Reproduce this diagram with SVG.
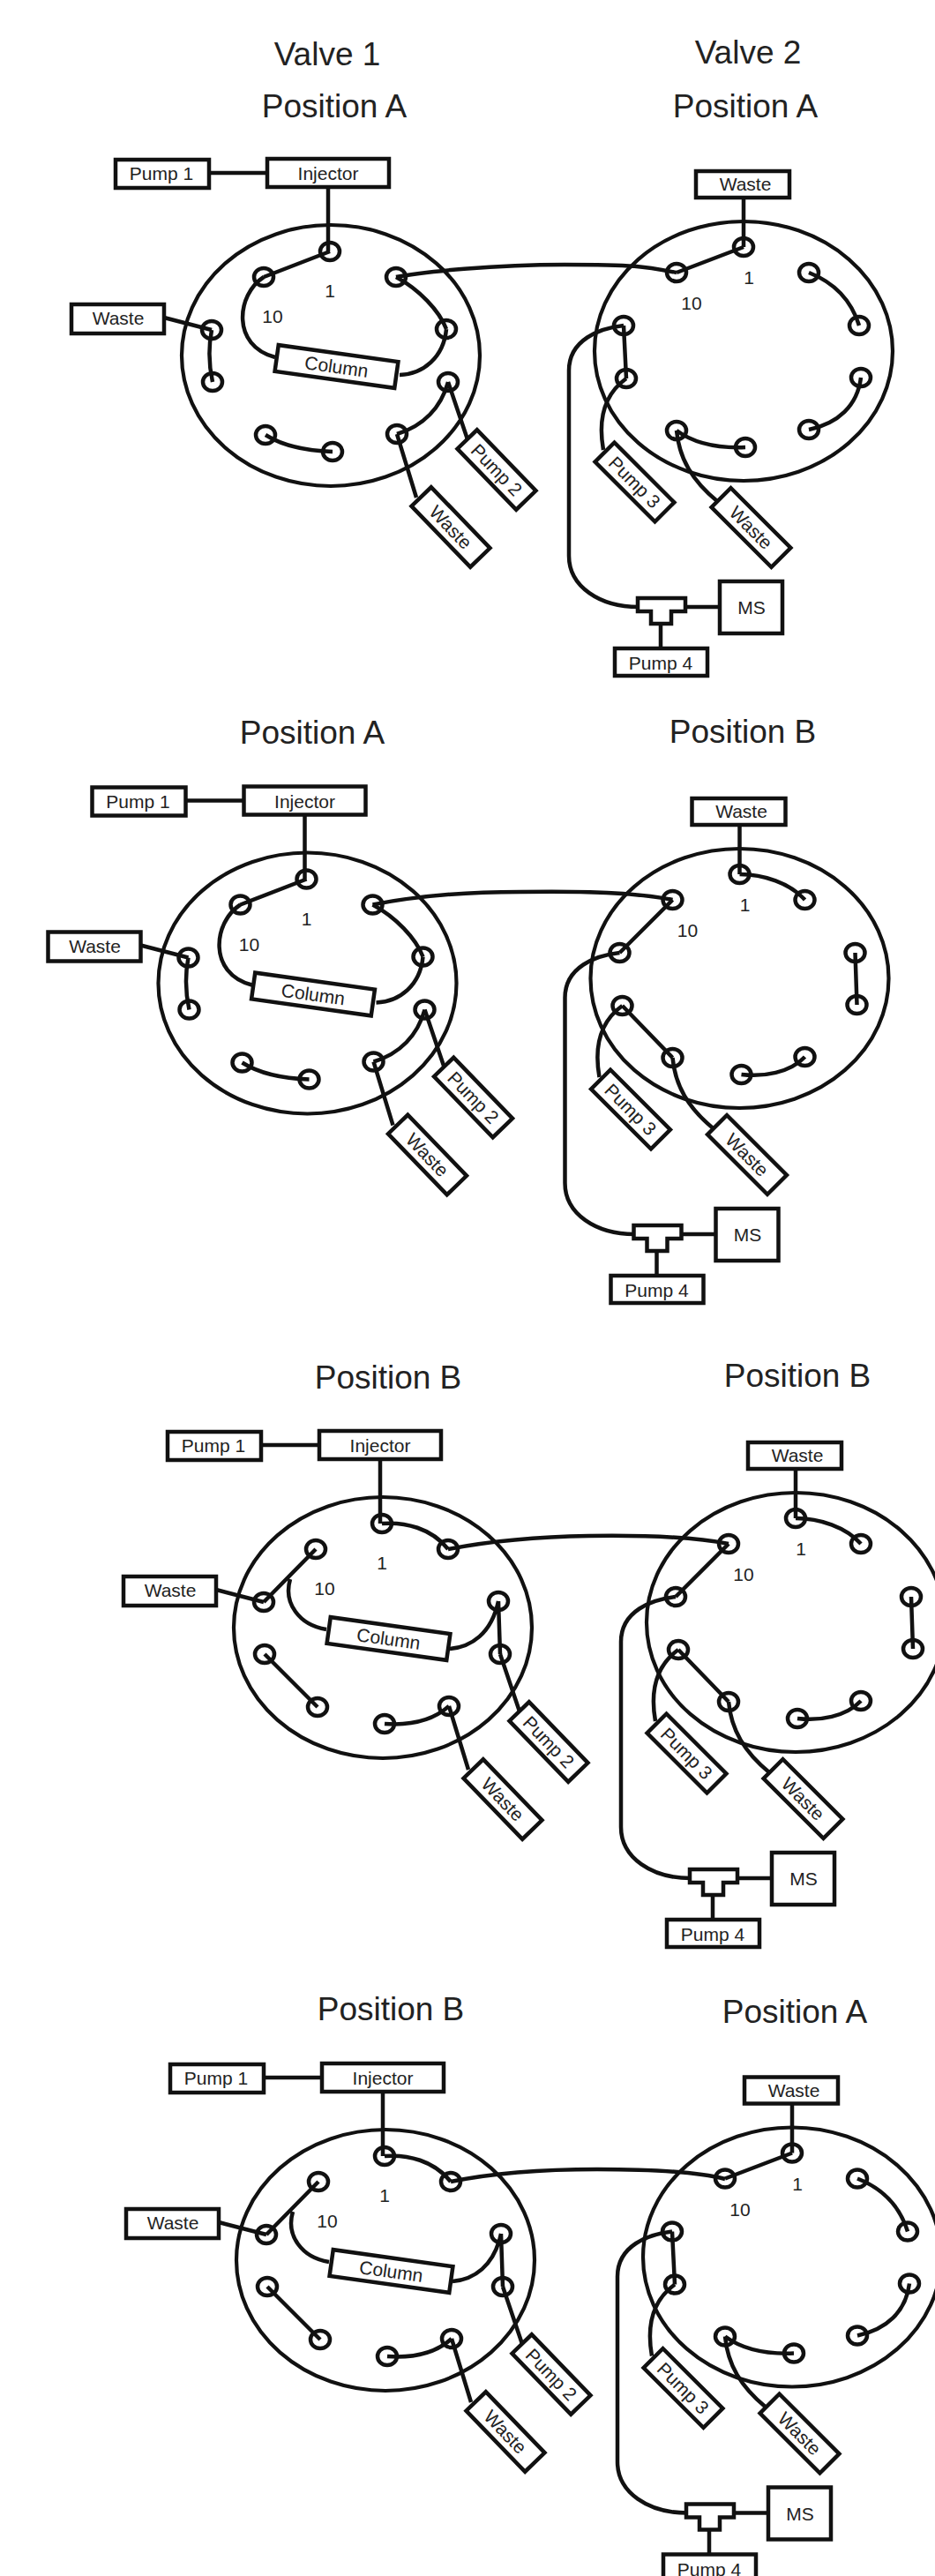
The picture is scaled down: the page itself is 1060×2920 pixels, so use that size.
<svg xmlns="http://www.w3.org/2000/svg" width="1060" height="2920" viewBox="0 0 1060 2920">
<style>
text{font-family:"Liberation Sans",Arial,sans-serif;fill:#222;text-anchor:middle;font-size:21px}
.t{font-size:37px}
.b{fill:#fff;stroke:#111;stroke-width:4.5}
.c path,.c line{fill:none;stroke:#111;stroke-width:4.5}
.x{fill:none;stroke:#111;stroke-width:4.2}
.p{fill:none;stroke:#111;stroke-width:4.5}
</style>
<defs>
<g id="v1p" class="p"><ellipse cx="374" cy="285" rx="11" ry="10"/><ellipse cx="449" cy="314" rx="11" ry="10"/><ellipse cx="506" cy="373" rx="11" ry="10"/><ellipse cx="508" cy="433" rx="11" ry="10"/><ellipse cx="450" cy="492" rx="11" ry="10"/><ellipse cx="377" cy="512" rx="11" ry="10"/><ellipse cx="301" cy="493" rx="11" ry="10"/><ellipse cx="241" cy="433" rx="11" ry="10"/><ellipse cx="240" cy="374" rx="11" ry="10"/><ellipse cx="299" cy="314" rx="11" ry="10"/></g>
<g id="v2p" class="p"><ellipse cx="843" cy="280" rx="11" ry="10"/><ellipse cx="917" cy="309" rx="11" ry="10"/><ellipse cx="974" cy="369" rx="11" ry="10"/><ellipse cx="976" cy="428" rx="11" ry="10"/><ellipse cx="917" cy="487" rx="11" ry="10"/><ellipse cx="845" cy="507" rx="11" ry="10"/><ellipse cx="767" cy="488" rx="11" ry="10"/><ellipse cx="710" cy="429" rx="11" ry="10"/><ellipse cx="707" cy="369" rx="11" ry="10"/><ellipse cx="767" cy="309" rx="11" ry="10"/></g>
</defs>
<rect width="1060" height="2920" fill="#fff"/>

<g id="titles">
<text class="t" x="371" y="74">Valve 1</text>
<text class="t" x="848" y="72">Valve 2</text>
<text class="t" x="379" y="133">Position A</text>
<text class="t" x="845" y="133">Position A</text>
<text class="t" x="354" y="843">Position A</text>
<text class="t" x="842" y="842">Position B</text>
<text class="t" x="440" y="1574">Position B</text>
<text class="t" x="904" y="1572">Position B</text>
<text class="t" x="443" y="2290">Position B</text>
<text class="t" x="901" y="2293">Position A</text>
</g>

<g id="connectors" class="c">
<path d="M449 314C480 308 560 300 640 300S730 302 767 309"/>
<path d="M422.500 1025.500C460 1018 520 1011 590 1011C650 1010 720 1011 762.500 1020"/>
<path d="M508 1756C550 1748 600 1742 667 1741C730 1740 790 1743 826 1750"/>
<path d="M511 2473C550 2465 600 2459 677 2459C730 2459 790 2462 822 2470"/>

<g id="conn-p1-v1">
<path d="M237 196H303M372 213V285M186 360L240 374M508 433L530 498M450 492L472 564"/>
<path d="M374 285L299 314M299 314C268 334 262 392 312 405M453 425C480 424 503 405 506 373M449 314C475 328 498 352 506 373M508 433C500 462 480 483 450 492M301 493C320 505 345 511 377 512M240 374C236 395 237 415 241 433"/>
</g>
<g id="conn-p1-v2">
<path d="M843 224V280M707 369C680 372 645 385 645 420V630C645 665 680 688 724 688M710 429C692 442 676 465 684 510M767 488C770 520 785 545 813 568M777 688H816M749 707V735"/>
<path d="M843 280L767 309M917 309C945 320 965 340 974 369M976 428C972 460 950 480 917 487M767 488C790 505 820 508 845 507M707 369L710 429"/>
</g>

<g id="conn-p2-v1" transform="translate(-26.500 711.500)">
<path d="M237 196H303M372 213V285M186 360L240 374M508 433L530 498M450 492L472 564"/>
<path d="M374 285L299 314M299 314C268 334 262 392 312 405M453 425C480 424 503 405 506 373M449 314C475 328 498 352 506 373M508 433C500 462 480 483 450 492M301 493C320 505 345 511 377 512M240 374C236 395 237 415 241 433"/>
</g>
<g id="conn-p2-v2" transform="translate(-4.500 711)">
<path d="M843 224V280M707 369C680 372 645 385 645 420V630C645 665 680 688 724 688M710 429C692 442 676 465 684 510M767 488C770 520 785 545 813 568M777 688H816M749 707V735"/>
<path d="M843 280C870 280 900 290 917 309M974 369L976 428M845 507C870 510 900 505 917 487M767 488L710 429M707 369L767 309"/>
</g>

<g id="conn-p3-v1" transform="translate(59 1442)">
<path d="M237 196H303M372 213V285M186 360L240 374M508 433L530 498M450 492L472 564"/>
<path d="M374 285C400 283 430 290 449 314M270 348C262 375 280 400 311 405M451 427C475 425 498 410 506 373M506 373L508 433M377 512C405 514 430 510 450 492M301 493L241 433M240 374L299 314"/>
</g>
<g id="conn-p3-v2" transform="translate(59 1441)">
<path d="M843 224V280M707 369C680 372 645 385 645 420V630C645 665 680 688 724 688M710 429C692 442 676 465 684 510M767 488C770 520 785 545 813 568M777 688H816M749 707V735"/>
<path d="M843 280C870 280 900 290 917 309M974 369L976 428M845 507C870 510 900 505 917 487M767 488L710 429M707 369L767 309"/>
</g>

<g id="conn-p4-v1" transform="translate(62 2159)">
<path d="M237 196H303M372 213V285M186 360L240 374M508 433L530 498M450 492L472 564"/>
<path d="M374 285C400 283 430 290 449 314M270 348C262 375 280 400 311 405M451 427C475 425 498 410 506 373M506 373L508 433M377 512C405 514 430 510 450 492M301 493L241 433M240 374L299 314"/>
</g>
<g id="conn-p4-v2" transform="translate(55 2160.500)">
<path d="M843 224V280M707 369C680 372 645 385 645 420V630C645 665 680 688 724 688M710 429C692 442 676 465 684 510M767 488C770 520 785 545 813 568M777 688H816M749 707V735"/>
<path d="M843 280L767 309M917 309C945 320 965 340 974 369M976 428C972 460 950 480 917 487M767 488C790 505 820 508 845 507M707 369L710 429"/>
</g>
</g>

<g id="panel1-valve1">
<g id="p1-v1-rotor"><ellipse class="x" cx="375" cy="403" rx="169" ry="148"/><use href="#v1p"/><text x="374" y="337">1</text><text x="309" y="366">10</text></g>
<g id="p1-v1-pump1"><rect class="b" x="131" y="181" width="106" height="32"/><text x="183" y="204">Pump 1</text></g>
<g id="p1-v1-injector"><rect class="b" x="303" y="180" width="138" height="32"/><text x="372" y="204">Injector</text></g>
<g id="p1-v1-waste"><rect class="b" x="81" y="345" width="105" height="33"/><text x="134" y="368">Waste</text></g>
<g id="p1-v1-column" transform="rotate(8 381.500 415.500)"><rect class="b" x="313" y="400.500" width="137" height="30"/><text x="381.500" y="423">Column</text></g>
<g id="p1-v1-pump2" transform="rotate(46 563 532.500)"><rect class="b" x="515" y="517" width="96" height="31"/><text x="563" y="540">Pump 2</text></g>
<g id="p1-v1-waste2" transform="rotate(46 511 597.500)"><rect class="b" x="463" y="582" width="96" height="31"/><text x="511" y="605">Waste</text></g>
</g>
<g id="panel1-valve2">
<g id="p1-v2-rotor"><ellipse class="x" cx="843" cy="398" rx="169" ry="147"/><use href="#v2p"/><text x="849" y="322">1</text><text x="784" y="351">10</text></g>
<g id="p1-v2-waste"><rect class="b" x="789" y="194" width="106" height="30"/><text x="845" y="216">Waste</text></g>
<g id="p1-v2-pump3" transform="rotate(45 719.500 546.500)"><rect class="b" x="671.500" y="531" width="96" height="31"/><text x="719.500" y="554">Pump 3</text></g>
<g id="p1-v2-waste2" transform="rotate(45 851.500 598)"><rect class="b" x="803.500" y="582.500" width="96" height="31"/><text x="851.500" y="605.500">Waste</text></g>
<g id="p1-v2-tee"><path class="b" d="M723 678H777V693H761V707H738V693H723Z"/></g>
<g id="p1-v2-ms"><rect class="b" x="816" y="659" width="71" height="59"/><text x="852" y="696">MS</text></g>
<g id="p1-v2-pump4"><rect class="b" x="697" y="735" width="105" height="31"/><text x="749" y="759">Pump 4</text></g>
</g>

<g id="panel2-valve1" transform="translate(-26.500 711.500)">
<g id="p2-v1-rotor"><ellipse class="x" cx="375" cy="403" rx="169" ry="148"/><use href="#v1p"/><text x="374" y="337">1</text><text x="309" y="366">10</text></g>
<g id="p2-v1-pump1"><rect class="b" x="131" y="181" width="106" height="32"/><text x="183" y="204">Pump 1</text></g>
<g id="p2-v1-injector"><rect class="b" x="303" y="180" width="138" height="32"/><text x="372" y="204">Injector</text></g>
<g id="p2-v1-waste"><rect class="b" x="81" y="345" width="105" height="33"/><text x="134" y="368">Waste</text></g>
<g id="p2-v1-column" transform="rotate(8 381.500 415.500)"><rect class="b" x="313" y="400.500" width="137" height="30"/><text x="381.500" y="423">Column</text></g>
<g id="p2-v1-pump2" transform="rotate(46 563 532.500)"><rect class="b" x="515" y="517" width="96" height="31"/><text x="563" y="540">Pump 2</text></g>
<g id="p2-v1-waste2" transform="rotate(46 511 597.500)"><rect class="b" x="463" y="582" width="96" height="31"/><text x="511" y="605">Waste</text></g>
</g>
<g id="panel2-valve2" transform="translate(-4.500 711)">
<g id="p2-v2-rotor"><ellipse class="x" cx="843" cy="398" rx="169" ry="147"/><use href="#v2p"/><text x="849" y="322">1</text><text x="784" y="351">10</text></g>
<g id="p2-v2-waste"><rect class="b" x="789" y="194" width="106" height="30"/><text x="845" y="216">Waste</text></g>
<g id="p2-v2-pump3" transform="rotate(45 719.500 546.500)"><rect class="b" x="671.500" y="531" width="96" height="31"/><text x="719.500" y="554">Pump 3</text></g>
<g id="p2-v2-waste2" transform="rotate(45 851.500 598)"><rect class="b" x="803.500" y="582.500" width="96" height="31"/><text x="851.500" y="605.500">Waste</text></g>
<g id="p2-v2-tee"><path class="b" d="M723 678H777V693H761V707H738V693H723Z"/></g>
<g id="p2-v2-ms"><rect class="b" x="816" y="659" width="71" height="59"/><text x="852" y="696">MS</text></g>
<g id="p2-v2-pump4"><rect class="b" x="697" y="735" width="105" height="31"/><text x="749" y="759">Pump 4</text></g>
</g>

<g id="panel3-valve1" transform="translate(59 1442)">
<g id="p3-v1-rotor"><ellipse class="x" cx="375" cy="403" rx="169" ry="148"/><use href="#v1p"/><text x="374" y="337">1</text><text x="309" y="366">10</text></g>
<g id="p3-v1-pump1"><rect class="b" x="131" y="181" width="106" height="32"/><text x="183" y="204">Pump 1</text></g>
<g id="p3-v1-injector"><rect class="b" x="303" y="180" width="138" height="32"/><text x="372" y="204">Injector</text></g>
<g id="p3-v1-waste"><rect class="b" x="81" y="345" width="105" height="33"/><text x="134" y="368">Waste</text></g>
<g id="p3-v1-column" transform="rotate(8 381.500 415.500)"><rect class="b" x="313" y="400.500" width="137" height="30"/><text x="381.500" y="423">Column</text></g>
<g id="p3-v1-pump2" transform="rotate(46 563 532.500)"><rect class="b" x="515" y="517" width="96" height="31"/><text x="563" y="540">Pump 2</text></g>
<g id="p3-v1-waste2" transform="rotate(46 511 597.500)"><rect class="b" x="463" y="582" width="96" height="31"/><text x="511" y="605">Waste</text></g>
</g>
<g id="panel3-valve2" transform="translate(59 1441)">
<g id="p3-v2-rotor"><ellipse class="x" cx="843" cy="398" rx="169" ry="147"/><use href="#v2p"/><text x="849" y="322">1</text><text x="784" y="351">10</text></g>
<g id="p3-v2-waste"><rect class="b" x="789" y="194" width="106" height="30"/><text x="845" y="216">Waste</text></g>
<g id="p3-v2-pump3" transform="rotate(45 719.500 546.500)"><rect class="b" x="671.500" y="531" width="96" height="31"/><text x="719.500" y="554">Pump 3</text></g>
<g id="p3-v2-waste2" transform="rotate(45 851.500 598)"><rect class="b" x="803.500" y="582.500" width="96" height="31"/><text x="851.500" y="605.500">Waste</text></g>
<g id="p3-v2-tee"><path class="b" d="M723 678H777V693H761V707H738V693H723Z"/></g>
<g id="p3-v2-ms"><rect class="b" x="816" y="659" width="71" height="59"/><text x="852" y="696">MS</text></g>
<g id="p3-v2-pump4"><rect class="b" x="697" y="735" width="105" height="31"/><text x="749" y="759">Pump 4</text></g>
</g>

<g id="panel4-valve1" transform="translate(62 2159)">
<g id="p4-v1-rotor"><ellipse class="x" cx="375" cy="403" rx="169" ry="148"/><use href="#v1p"/><text x="374" y="337">1</text><text x="309" y="366">10</text></g>
<g id="p4-v1-pump1"><rect class="b" x="131" y="181" width="106" height="32"/><text x="183" y="204">Pump 1</text></g>
<g id="p4-v1-injector"><rect class="b" x="303" y="180" width="138" height="32"/><text x="372" y="204">Injector</text></g>
<g id="p4-v1-waste"><rect class="b" x="81" y="345" width="105" height="33"/><text x="134" y="368">Waste</text></g>
<g id="p4-v1-column" transform="rotate(8 381.500 415.500)"><rect class="b" x="313" y="400.500" width="137" height="30"/><text x="381.500" y="423">Column</text></g>
<g id="p4-v1-pump2" transform="rotate(46 563 532.500)"><rect class="b" x="515" y="517" width="96" height="31"/><text x="563" y="540">Pump 2</text></g>
<g id="p4-v1-waste2" transform="rotate(46 511 597.500)"><rect class="b" x="463" y="582" width="96" height="31"/><text x="511" y="605">Waste</text></g>
</g>
<g id="panel4-valve2" transform="translate(55 2160.500)">
<g id="p4-v2-rotor"><ellipse class="x" cx="843" cy="398" rx="169" ry="147"/><use href="#v2p"/><text x="849" y="322">1</text><text x="784" y="351">10</text></g>
<g id="p4-v2-waste"><rect class="b" x="789" y="194" width="106" height="30"/><text x="845" y="216">Waste</text></g>
<g id="p4-v2-pump3" transform="rotate(45 719.500 546.500)"><rect class="b" x="671.500" y="531" width="96" height="31"/><text x="719.500" y="554">Pump 3</text></g>
<g id="p4-v2-waste2" transform="rotate(45 851.500 598)"><rect class="b" x="803.500" y="582.500" width="96" height="31"/><text x="851.500" y="605.500">Waste</text></g>
<g id="p4-v2-tee"><path class="b" d="M723 678H777V693H761V707H738V693H723Z"/></g>
<g id="p4-v2-ms"><rect class="b" x="816" y="659" width="71" height="59"/><text x="852" y="696">MS</text></g>
<g id="p4-v2-pump4"><rect class="b" x="697" y="735" width="105" height="31"/><text x="749" y="759">Pump 4</text></g>
</g>
</svg>
